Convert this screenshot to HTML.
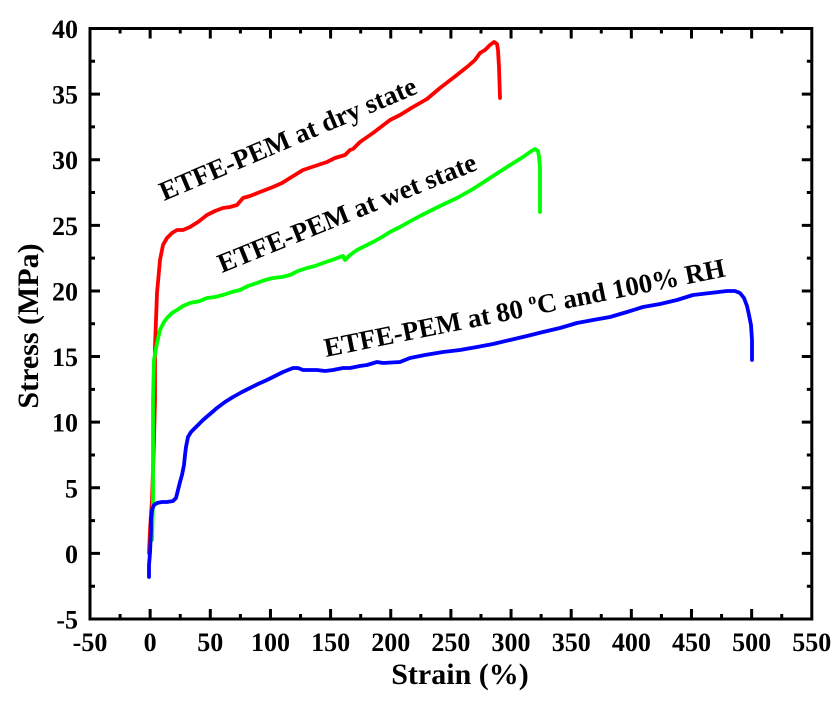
<!DOCTYPE html>
<html><head><meta charset="utf-8"><style>
html,body{margin:0;padding:0;background:#fff;}
svg{display:block;}
text{font-family:"Liberation Serif",serif;font-weight:bold;fill:#000;}
</style></head><body>
<svg width="836" height="701" viewBox="0 0 836 701" xmlns="http://www.w3.org/2000/svg">
<rect width="836" height="701" fill="#fff"/>
<g fill="none" stroke-width="3.8" stroke-linejoin="round" stroke-linecap="round">
<polyline stroke="#ff0000" points="149,553 150,530 152,500 153,470 154,440 155,400 155,347 157,293 160,260 163,245 167,238 172,233 177,230 183,230 190,227 198,222 207,215 215,211 223,208 230,207 237,205 243,198 250,196 260,192 273,187 282,183 290,178 303,170 315,166 327,162 335,158 345,155 350,150 353,149 360,142 373,133 390,120 400,115 413,107 427,99 440,88 453,78 467,67 475,60 480,53 485,50 490,45 494,42 497,44 498,50 499,67 500,98"/>
<polyline stroke="#00ff00" points="152,540 153,500 153,450 153,400 154,360 157,343 160,330 164,322 167,318 172,313 177,310 183,306 190,303 200,301 207,298 215,297 223,295 232,292 240,290 248,286 257,283 265,280 273,278 282,277 290,275 298,271 307,268 315,266 323,263 332,260 340,257 343,256 345,260 350,255 357,250 365,246 373,242 382,237 390,232 400,227 407,223 420,216 430,211 440,206 457,198 473,189 490,178 507,167 523,157 530,152 535,149 538,151 539,157 540,167 540,212"/>
<polyline stroke="#0000ff" points="149,577 149,565 150,553 151,530 151,520 152,510 154,505 157,503 162,502 167,502 173,501 176,498 178,490 180,482 182,475 184,465 185,455 186,447 188,437 191,432 195,428 203,420 210,414 217,408 225,402 233,397 242,392 250,388 258,384 267,380 275,376 283,372 293,368 298,368 303,370 317,370 325,371 333,370 343,368 350,368 360,366 367,365 377,362 383,363 400,362 410,358 425,355 443,352 460,350 477,347 493,344 510,340 527,336 543,332 560,328 577,323 593,320 610,317 627,312 643,307 660,304 677,300 693,295 710,293 727,291 735,291 740,293 744,298 747,306 749,315 751,325 752,340 752,360"/>
</g>
<g stroke="#000" stroke-width="3" fill="none">
<rect x="90" y="28.5" width="721.8" height="590.5"/>
<path d="M150.15,619v-10M210.3,619v-10M270.45,619v-10M330.6,619v-10M390.75,619v-10M450.9,619v-10M511.05,619v-10M571.2,619v-10M631.35,619v-10M691.5,619v-10M751.65,619v-10
M120.08,619v-5M180.23,619v-5M240.38,619v-5M300.53,619v-5M360.68,619v-5M420.83,619v-5M480.98,619v-5M541.13,619v-5M601.28,619v-5M661.43,619v-5M721.58,619v-5M781.73,619v-5
M150.15,28.5v10M210.3,28.5v10M270.45,28.5v10M330.6,28.5v10M390.75,28.5v10M450.9,28.5v10M511.05,28.5v10M571.2,28.5v10M631.35,28.5v10M691.5,28.5v10M751.65,28.5v10
M120.08,28.5v5M180.23,28.5v5M240.38,28.5v5M300.53,28.5v5M360.68,28.5v5M420.83,28.5v5M480.98,28.5v5M541.13,28.5v5M601.28,28.5v5M661.43,28.5v5M721.58,28.5v5M781.73,28.5v5
M90,94.11h10M90,159.72h10M90,225.33h10M90,290.94h10M90,356.56h10M90,422.17h10M90,487.78h10M90,553.39h10
M90,61.3h5M90,126.9h5M90,192.5h5M90,258.1h5M90,323.75h5M90,389.4h5M90,455h5M90,520.6h5M90,586.2h5
M811.8,94.11h-10M811.8,159.72h-10M811.8,225.33h-10M811.8,290.94h-10M811.8,356.56h-10M811.8,422.17h-10M811.8,487.78h-10M811.8,553.39h-10
M811.8,61.3h-5M811.8,126.9h-5M811.8,192.5h-5M811.8,258.1h-5M811.8,323.75h-5M811.8,389.4h-5M811.8,455h-5M811.8,520.6h-5M811.8,586.2h-5"/>
</g>
<g font-size="26" text-anchor="end">
<text x="78" y="38">40</text>
<text x="78" y="103.6">35</text>
<text x="78" y="169.2">30</text>
<text x="78" y="234.8">25</text>
<text x="78" y="300.4">20</text>
<text x="78" y="366">15</text>
<text x="78" y="431.7">10</text>
<text x="78" y="497.3">5</text>
<text x="78" y="562.9">0</text>
<text x="78" y="628.5">-5</text>
</g>
<g font-size="26" text-anchor="middle">
<text x="90" y="651">-50</text>
<text x="150.15" y="651">0</text>
<text x="210.3" y="651">50</text>
<text x="270.45" y="651">100</text>
<text x="330.6" y="651">150</text>
<text x="390.75" y="651">200</text>
<text x="450.9" y="651">250</text>
<text x="511.05" y="651">300</text>
<text x="571.2" y="651">350</text>
<text x="631.35" y="651">400</text>
<text x="691.5" y="651">450</text>
<text x="751.65" y="651">500</text>
<text x="811.8" y="651">550</text>
</g>
<text x="460" y="684" font-size="30" text-anchor="middle">Strain (%)</text>
<text transform="translate(38,326) rotate(-90)" font-size="30" text-anchor="middle">Stress (MPa)</text>
<text transform="translate(164,201) rotate(-23)" font-size="27">ETFE-PEM at dry state</text>
<text transform="translate(222,273) rotate(-22)" font-size="27">ETFE-PEM at wet state</text>
<text transform="translate(326,357) rotate(-11.4)" font-size="27">ETFE-PEM at 80 <tspan font-size="16" dy="-11">o</tspan><tspan dy="11">C and 100% RH</tspan></text>
</svg>
</body></html>
